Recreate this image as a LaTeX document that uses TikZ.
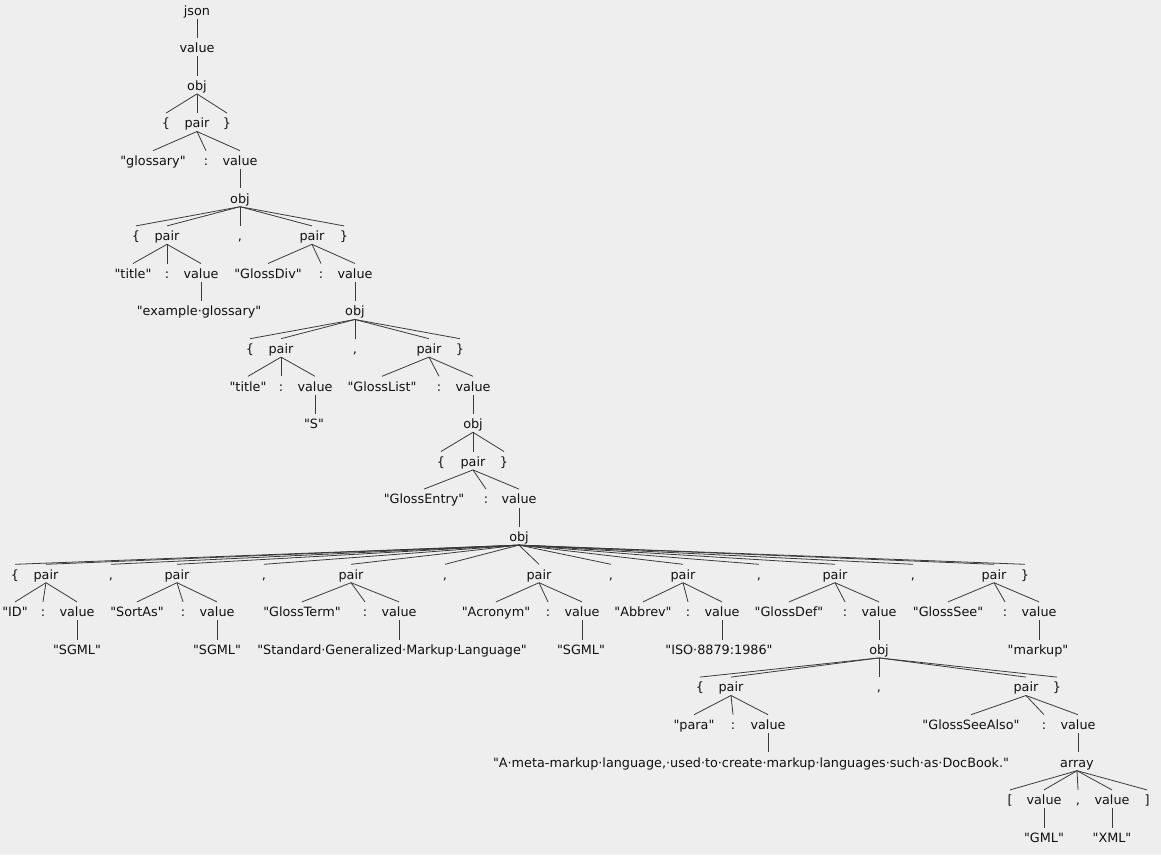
\documentclass[tikz,border=0pt]{standalone}
\usepackage{fontspec}
\setmainfont{DejaVu Sans}[Ligatures=TeXOff]
\usepackage{tikz}
\definecolor{bgfill}{HTML}{EEEEEE}
\definecolor{inkline}{HTML}{3A3A3A}
\definecolor{inktext}{HTML}{111111}

\begin{document}
\begin{tikzpicture}[x=1pt, y=-1pt,
		tok/.style={anchor=base, inner sep=0pt, text height=14.5pt, text depth=3.5pt, text=inktext, font=\fontsize{12.8}{15}\selectfont},
		edge/.style={draw=inkline, line width=0.8pt}]
			%%%%% START %%%%%
			
			\fill[bgfill] (0,0) rectangle (1161,855);
			
			% top of the tree
			\node[tok] (json) at (197,15) {json};
			\node[tok] (v1) at (197,52.6) {value};
			\node[tok] (o1) at (197,90.2) {obj};
			\node[tok] (o1l) at (166,127.8) {\{};
			\node[tok] (o1p) at (197,127.8) {pair};
			\node[tok] (o1r) at (227,127.8) {\}};
			\node[tok] (k1) at (153,165.4) {"glossary"};
			\node[tok] (c1) at (206,165.4) {:};
			\node[tok] (v2) at (240,165.4) {value};
			\node[tok] (o2) at (240,203) {obj};
			
			% glossary object
			\node[tok] (o2l) at (136,240.6) {\{};
			\node[tok] (p2a) at (167,240.6) {pair};
			\node[tok] (o2c) at (240,240.6) {,};
			\node[tok] (p2b) at (312,240.6) {pair};
			\node[tok] (o2r) at (344,240.6) {\}};
			\node[tok] (k2a) at (133,278.2) {"title"};
			\node[tok] (c2a) at (167,278.2) {:};
			\node[tok] (v2a) at (201,278.2) {value};
			\node[tok] (k2b) at (268,278.2) {"GlossDiv"};
			\node[tok] (c2b) at (321,278.2) {:};
			\node[tok] (v2b) at (355,278.2) {value};
			\node[tok] (s2a) at (199,315.8) {"example·glossary"};
			\node[tok] (o3) at (355,315.8) {obj};
			
			% GlossDiv object
			\node[tok] (o3l) at (250,353.4) {\{};
			\node[tok] (p3a) at (281,353.4) {pair};
			\node[tok] (o3c) at (355,353.4) {,};
			\node[tok] (p3b) at (429,353.4) {pair};
			\node[tok] (o3r) at (460,353.4) {\}};
			\node[tok] (k3a) at (248,391) {"title"};
			\node[tok] (c3a) at (281,391) {:};
			\node[tok] (v3a) at (315,391) {value};
			\node[tok] (k3b) at (382,391) {"GlossList"};
			\node[tok] (c3b) at (439,391) {:};
			\node[tok] (v3b) at (473,391) {value};
			\node[tok] (s3a) at (314,428.6) {"S"};
			\node[tok] (o4) at (473,428.6) {obj};
			
			% GlossList object
			\node[tok] (o4l) at (441,466.2) {\{};
			\node[tok] (p4) at (473,466.2) {pair};
			\node[tok] (o4r) at (504,466.2) {\}};
			\node[tok] (k4) at (424,503.8) {"GlossEntry"};
			\node[tok] (c4) at (486,503.8) {:};
			\node[tok] (v4) at (519,503.8) {value};
			\node[tok] (o5) at (519,541.4) {obj};
			
			% GlossEntry object
			\node[tok] (o5l) at (15,579) {\{};
			\node[tok] (p5a) at (46,579) {pair};
			\node[tok] (o5c1) at (111,579) {,};
			\node[tok] (p5b) at (177,579) {pair};
			\node[tok] (o5c2) at (264,579) {,};
			\node[tok] (p5c) at (351,579) {pair};
			\node[tok] (o5c3) at (445,579) {,};
			\node[tok] (p5d) at (539,579) {pair};
			\node[tok] (o5c4) at (611,579) {,};
			\node[tok] (p5e) at (683,579) {pair};
			\node[tok] (o5c5) at (759,579) {,};
			\node[tok] (p5f) at (835,579) {pair};
			\node[tok] (o5c6) at (913,579) {,};
			\node[tok] (p5g) at (994,579) {pair};
			\node[tok] (o5r) at (1025,579) {\}};
			
			\node[tok] (ka) at (15,616.6) {"ID"};
			\node[tok] (ca) at (43,616.6) {:};
			\node[tok] (va) at (77,616.6) {value};
			\node[tok] (kb) at (137,616.6) {"SortAs"};
			\node[tok] (cb) at (183,616.6) {:};
			\node[tok] (vb) at (217,616.6) {value};
			\node[tok] (kc) at (302,616.6) {"GlossTerm"};
			\node[tok] (cc) at (365,616.6) {:};
			\node[tok] (vc) at (399,616.6) {value};
			\node[tok] (kd) at (496,616.6) {"Acronym"};
			\node[tok] (cd) at (548,616.6) {:};
			\node[tok] (vd) at (582,616.6) {value};
			\node[tok] (ke) at (643,616.6) {"Abbrev"};
			\node[tok] (ce) at (688,616.6) {:};
			\node[tok] (ve) at (722,616.6) {value};
			\node[tok] (kf) at (789,616.6) {"GlossDef"};
			\node[tok] (cf) at (845,616.6) {:};
			\node[tok] (vf) at (879,616.6) {value};
			\node[tok] (kg) at (948,616.6) {"GlossSee"};
			\node[tok] (cg) at (1005,616.6) {:};
			\node[tok] (vg) at (1039,616.6) {value};
			
			\node[tok] (sa) at (77,654.2) {"SGML"};
			\node[tok] (sb) at (217,654.2) {"SGML"};
			\node[tok] (sc) at (392,654.2) {"Standard·Generalized·Markup·Language"};
			\node[tok] (sd) at (581,654.2) {"SGML"};
			\node[tok] (se) at (719,654.2) {"ISO·8879:1986"};
			\node[tok] (o6) at (879,654.2) {obj};
			\node[tok] (sg) at (1038,654.2) {"markup"};
			
			% GlossDef object
			\node[tok] (o6l) at (700,691.8) {\{};
			\node[tok] (p6a) at (731,691.8) {pair};
			\node[tok] (o6c) at (879,691.8) {,};
			\node[tok] (p6b) at (1026,691.8) {pair};
			\node[tok] (o6r) at (1057,691.8) {\}};
			\node[tok] (k6a) at (694,729.4) {"para"};
			\node[tok] (c6a) at (733,729.4) {:};
			\node[tok] (v6a) at (768,729.4) {value};
			\node[tok] (k6b) at (971,729.4) {"GlossSeeAlso"};
			\node[tok] (c6b) at (1044,729.4) {:};
			\node[tok] (v6b) at (1078,729.4) {value};
			\node[tok] (s6a) at (751,767) {"A·meta-markup·language,·used·to·create·markup·languages·such·as·DocBook."};
			\node[tok] (ar) at (1077,767) {array};
			
			% GlossSeeAlso array
			\node[tok] (arl) at (1010,804.6) {[};
			\node[tok] (av1) at (1044,804.6) {value};
			\node[tok] (arc) at (1078,804.6) {,};
			\node[tok] (av2) at (1112,804.6) {value};
			\node[tok] (arr) at (1147,804.6) {]};
			\node[tok] (sx1) at (1044,842.2) {"GML"};
			\node[tok] (sx2) at (1112,842.2) {"XML"};
			
			% branches with one child: straight down
			\foreach \a/\b in {json/v1, v1/o1, v2/o2, v2a/s2a, v2b/o3, v3a/s3a, v3b/o4, v4/o5,
				va/sa, vb/sb, vc/sc, vd/sd, ve/se, vf/o6, vg/sg, v6a/s6a, v6b/ar, av1/sx1, av2/sx2}
				\draw[edge] (\a.south) -- (\a.south |- \b.north);
			
			% branches with several children
			\foreach \a/\b in {o1/o1l, o1/o1p, o1/o1r, o1p/k1, o1p/c1, o1p/v2,
				o2/o2l, o2/p2a, o2/o2c, o2/p2b, o2/o2r, p2a/k2a, p2a/c2a, p2a/v2a,
				p2b/k2b, p2b/c2b, p2b/v2b}
				\draw[edge] (\a.south) -- (\b.north);
			
			\foreach \a/\b in {o3/o3l, o3/p3a, o3/o3c, o3/p3b, o3/o3r, p3a/k3a, p3a/c3a, p3a/v3a,
				p3b/k3b, p3b/c3b, p3b/v3b, o4/o4l, o4/p4, o4/o4r, p4/k4, p4/c4, p4/v4}
				\draw[edge] (\a.south) -- (\b.north);
			
			\foreach \b in {o5l, p5a, o5c1, p5b, o5c2, p5c, o5c3, p5d, o5c4, p5e, o5c5, p5f, o5c6, p5g, o5r}
				\draw[edge] (o5.south) -- (\b.north);
			
			\foreach \a/\b in {p5a/ka, p5a/ca, p5a/va, p5b/kb, p5b/cb, p5b/vb,
				p5c/kc, p5c/cc, p5c/vc, p5d/kd, p5d/cd, p5d/vd,
				p5e/ke, p5e/ce, p5e/ve, p5f/kf, p5f/cf, p5f/vf,
				p5g/kg, p5g/cg, p5g/vg}
				\draw[edge] (\a.south) -- (\b.north);
			
			\foreach \a/\b in {o6/o6l, o6/p6a, o6/o6c, o6/p6b, o6/o6r, p6a/k6a, p6a/c6a, p6a/v6a,
				p6b/k6b, p6b/c6b, p6b/v6b, ar/arl, ar/av1, ar/arc, ar/av2, ar/arr}
				\draw[edge] (\a.south) -- (\b.north);
			
			%%%%% END %%%%%
\end{tikzpicture}
\end{document}
